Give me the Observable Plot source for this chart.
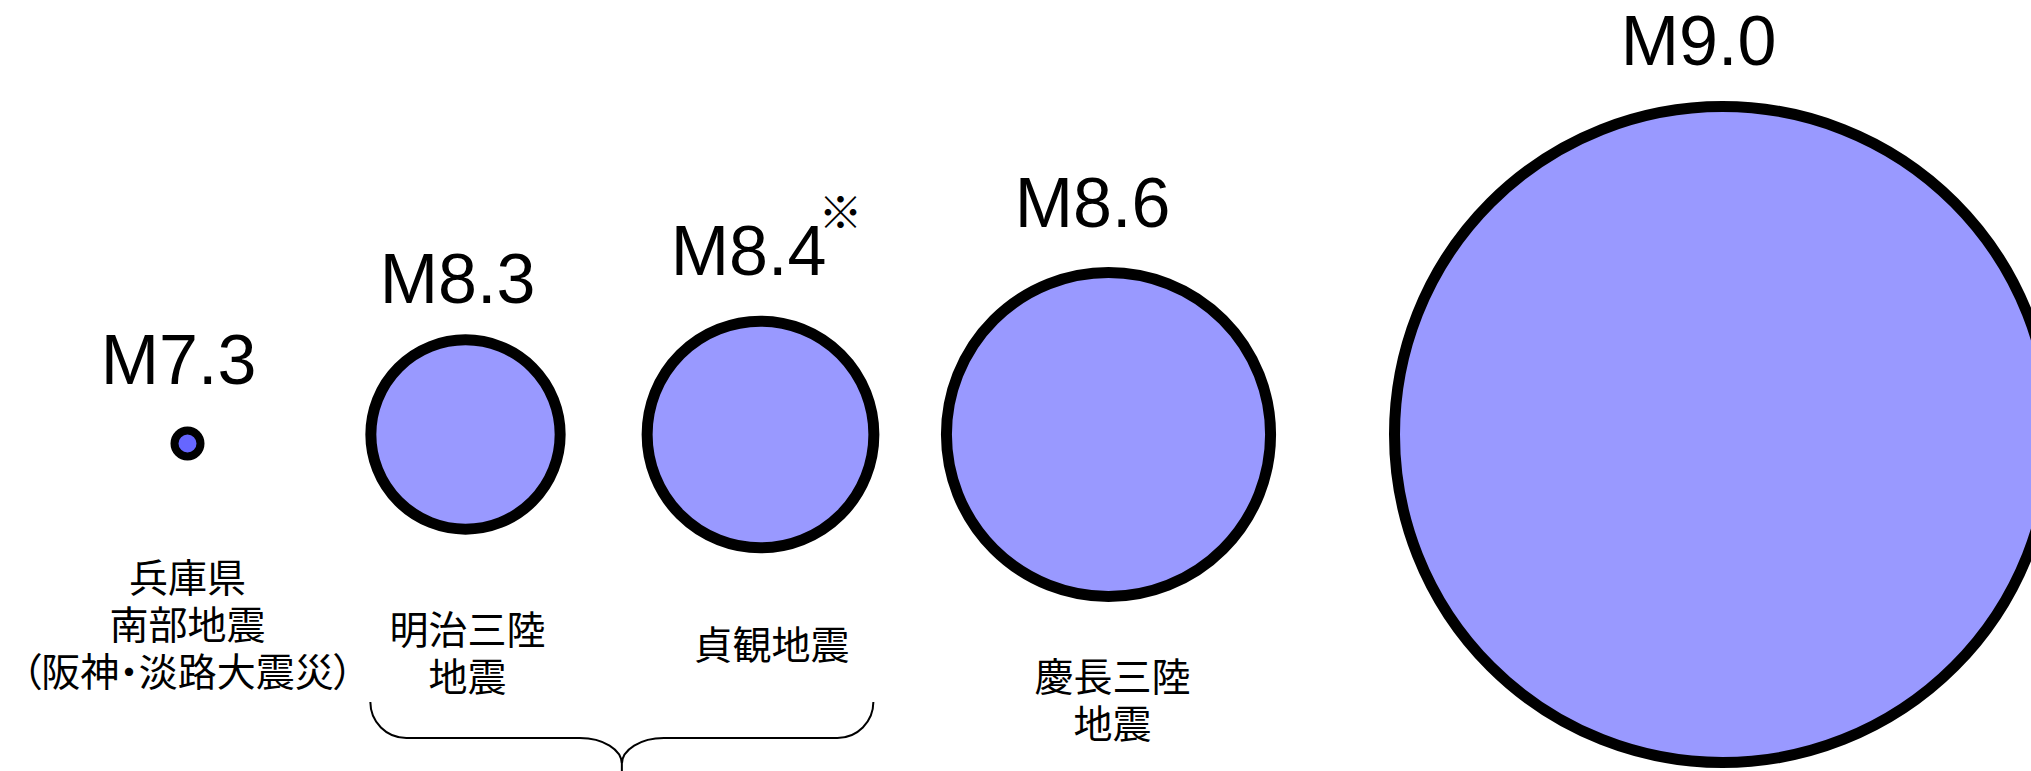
<!DOCTYPE html>
<html>
<head>
<meta charset="utf-8">
<script src="https://cdn.jsdelivr.net/npm/d3@7"></script>
<script src="https://cdn.jsdelivr.net/npm/@observablehq/plot@0.6"></script>
<style>
  html, body { margin: 0; padding: 0; background: #fff; overflow: hidden; }
  #chart svg { display: block; }
  #chart svg text { font-feature-settings: "palt" 1; }
</style>
</head>
<body>
<div id="chart"></div>
<script>
// ---------------- data ----------------
const names = [
  "兵庫県\n南部地震\n（阪神・淡路大震災）",
  "明治三陸\n地震",
  "貞観地震",
  "慶長三陸\n地震",
  ""
];
const magnitudes = [7.3, 8.3, 8.4, 8.6, 9.0];
const magnitudeLabels = ["M7.3", "M8.3", "M8.4", "M8.6", "M9.0"];
const notes = ["", "", "※", "", ""];
const bracedGroup = [1, 2]; // events grouped under the brace

// ---------------- layout (options) ----------------
const W = 2031, H = 771;
const centerX = [187, 465, 760, 1108, 1722];      // x scale range
const radiusRange = [13, 328];                     // r scale range
const labelDx = [-9, -8, -12, -16, -24];
const labelGap = [34, 31, 41, 40, 36];
const captionDx = [0, 2, 11, 4, 0];
const captionGap = [98, 76, 72, 56, 0];
const smallStroke = 8, largeStroke = 11;
const latin = "'Liberation Sans', Arial, Helvetica, sans-serif";
const cjk = "'Noto Sans CJK JP', 'Noto Sans CJK SC', sans-serif";

const events = magnitudes.map((m, i) => ({
  i,
  name: names[i],
  magnitude: m,
  label: magnitudeLabels[i],
  note: notes[i],
  energy: Math.pow(10, 1.5 * m)   // energy ∝ 10^(1.5M) → circle area
}));

const rOpts = {type: "sqrt", domain: d3.extent(events, d => d.energy), range: radiusRange};
const rScale = Plot.scale({r: rOpts});
const isSmall = d => d.magnitude < 8;
const sw = d => isSmall(d) ? smallStroke : largeStroke;
const shiftY = d => isSmall(d) ? 9 : 0;
const outer = d => rScale.apply(d.energy) + sw(d) / 2;

const marks = [];

// circles
marks.push(Plot.dot(events.filter(d => !isSmall(d)), {
  x: "i", r: "energy", fill: "#9999ff", stroke: "#000", strokeWidth: largeStroke
}));
marks.push(Plot.dot(events.filter(isSmall), {
  x: "i", r: "energy", fill: "#6666ff", stroke: "#000", strokeWidth: smallStroke, dy: 9
}));

// magnitude labels + notes + captions
for (const d of events) {
  const labelDy = -(outer(d) + labelGap[d.i]);
  marks.push(Plot.text([d], {
    x: "i", text: "label", dx: labelDx[d.i], dy: labelDy,
    lineAnchor: "bottom", fontSize: 70, fontFamily: latin, fill: "#000"
  }));
  if (d.note) {
    marks.push(Plot.text([d], {
      x: "i", text: "note", dx: labelDx[d.i] + 92, dy: labelDy - 60,
      textAnchor: "middle", lineAnchor: "middle", fontSize: 44, fontFamily: cjk, fill: "#000"
    }));
  }
  if (d.name) {
    marks.push(Plot.text([d], {
      x: "i", text: "name", dx: captionDx[d.i], dy: shiftY(d) + outer(d) + captionGap[d.i],
      lineAnchor: "top", lineHeight: 1.205, fontSize: 39, fontFamily: cjk, fill: "#000"
    }));
  }
}

// brace under the grouped events
marks.push((index, scales, values, dimensions) => {
  const a = events[bracedGroup[0]], b = events[bracedGroup[bracedGroup.length - 1]];
  const L = scales.x(a.i) - scales.r(a.energy);
  const R = scales.x(b.i) + scales.r(b.energy);
  const M = (L + R) / 2;
  const h = dimensions.height;
  const yTop = h - 69, yMid = h - 33, yTip = h + 2;
  const c = 36, k = 0.552, mw = 42, md = 26;
  const p = d3.path();
  p.moveTo(L, yTop);
  p.bezierCurveTo(L, yTop + k * c, L + c - k * c, yMid, L + c, yMid);
  p.lineTo(M - mw, yMid);
  p.bezierCurveTo(M - mw + k * mw, yMid, M, yMid + md - k * md, M, yMid + md);
  p.lineTo(M, yTip);
  p.moveTo(M, yMid + md);
  p.bezierCurveTo(M, yMid + md - k * md, M + mw - k * mw, yMid, M + mw, yMid);
  p.lineTo(R - c, yMid);
  p.bezierCurveTo(R - c + k * c, yMid, R, yTop + k * c, R, yTop);
  return d3.create("svg:path")
    .attr("d", p.toString())
    .attr("fill", "none")
    .attr("stroke", "#000")
    .attr("stroke-width", 2)
    .node();
});

const chart = Plot.plot({
  width: W,
  height: H,
  marginTop: 97,
  marginBottom: 0,
  marginLeft: 0,
  marginRight: 0,
  style: {background: "#fff", overflow: "hidden"},
  x: {type: "linear", domain: events.map(d => d.i), range: centerX, axis: null},
  r: rOpts,
  marks
});
document.getElementById("chart").appendChild(chart);
</script>
</body>
</html>
